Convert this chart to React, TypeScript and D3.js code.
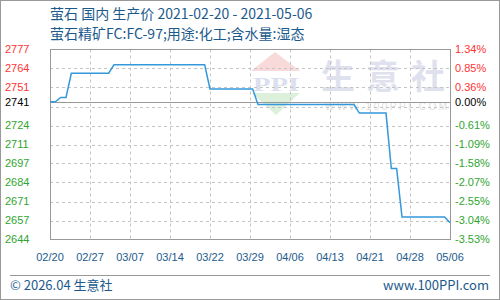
import React from "react";
import * as d3 from "d3";

// ---- data ----
const dates = [
  "2021-02-20", "2021-02-21", "2021-02-22", "2021-02-23", "2021-02-24",
  "2021-03-03", "2021-03-04", "2021-03-21", "2021-03-22", "2021-03-30",
  "2021-03-31", "2021-04-18", "2021-04-19", "2021-04-24", "2021-04-25",
  "2021-04-26", "2021-04-27", "2021-05-05", "2021-05-06",
];
const prices = [
  2741, 2741, 2744, 2744, 2761,
  2761, 2767, 2767, 2750, 2750,
  2739, 2739, 2733, 2733, 2694,
  2694, 2660, 2660, 2656,
];
const basePrice = 2741;
const yDomain = [2644.2, 2777.7];
const leftTickLabels = ["2777", "2764", "2751", "", "2724", "2711", "2697", "2684", "2671", "2657", "2644"];
const rightTickLabels = ["1.34%", "0.85%", "0.36%", "", "-0.61%", "-1.09%", "-1.58%", "-2.07%", "-2.55%", "-3.04%", "-3.53%"];
const xTickCount = 10;

const title = "萤石 国内 生产价 2021-02-20 - 2021-05-06";
const subtitle = "萤石精矿FC:FC-97;用途:化工;含水量:湿态";
const footerLeft = "© 2026.04 生意社";
const footerRight = "www.100PPI.com";

const W = 500, H = 300;
const L = 50, R = 450, T = 49.5, B = 239.5;
const BLUE = "#1c5a8c";
const RED = "#ff3333";
const GREEN = "#2fa52f";
const LINE = "#3498db";

export default function App() {
  const parse = d3.utcParse("%Y-%m-%d");
  const fmt = d3.utcFormat("%m/%d");
  const data = dates.map((d, i) => ({ date: parse(d)!, value: prices[i] }));
  const start = data[0].date;
  const end = data[data.length - 1].date;

  const x = d3.scaleUtc().domain([start, end]).range([L, R]);
  const y = d3.scaleLinear().domain(yDomain).range([B, T]);

  const xTicks = d3.range(xTickCount + 1).map(
    (i) => new Date(start.getTime() + (i * (end.getTime() - start.getTime())) / xTickCount)
  );
  const yTickVals = d3.range(leftTickLabels.length).map(
    (i) => yDomain[1] - (i * (yDomain[1] - yDomain[0])) / (leftTickLabels.length - 1)
  );

  const line = d3
    .line<{ date: Date; value: number }>()
    .x((d) => x(d.date))
    .y((d) => y(d.value));

  const yBase = Math.round(y(basePrice)) + 0.5;
  const axisFont = "'Liberation Sans', Arial, sans-serif";
  const cjkFont = "'Noto Sans CJK SC', 'Noto Sans', sans-serif";
  const GRID = "#c4c4c4";

  const hGrid = yTickVals.slice(1, -1).map((v) => Math.round(y(v)) + 0.5);
  const vGrid = xTicks.slice(1, -1).map((t) => Math.round(x(t)) + 0.5);

  return (
    <svg
      width={W}
      height={H}
      style={{ position: "absolute", left: 0, top: 0, background: "#fff" }}
    >
      <rect x={0.5} y={0.5} width={W - 1} height={H - 1} fill="#fff" stroke="#999" />

      {/* titles */}
      <text x={50} y={19} fontFamily={cjkFont} fontSize={14} fill={BLUE}>{title}</text>
      <text x={50} y={39} fontFamily={cjkFont} fontSize={14} fill={BLUE}>{subtitle}</text>

      {/* watermark */}
      <g>
        <path d="M275,52 L300,71 L251,71 Z" fill="#f8dada" />
        <text x={276} y={91} textAnchor="middle" fontFamily="'Liberation Serif', serif" fontWeight="bold" fontSize={19} fill="#dcdfee" textLength={46} lengthAdjust="spacingAndGlyphs">PPI</text>
        <path d="M252,93 L300,93 L276,115 Z" fill="#dcf0dc" />
        <text x={383} y={89} textAnchor="middle" fontFamily={cjkFont} fontWeight="bold" fontSize={34} fill="#dfe2ee" textLength={124} lengthAdjust="spacing">生意社</text>
        <text x={386} y={110} textAnchor="middle" fontFamily={axisFont} fontSize={10} fill="#e0e0e0" textLength={122} lengthAdjust="spacing">WWW.100PPI.COM</text>
      </g>

      {/* grid */}
      {hGrid.map((gy, i) => (
        <line key={"gy" + i} x1={L} x2={R} y1={gy} y2={gy} stroke={GRID} strokeWidth={1} strokeDasharray="3,3" />
      ))}
      {vGrid.map((gx, i) => (
        <line key={"gx" + i} x1={gx} x2={gx} y1={T} y2={B} stroke={GRID} strokeWidth={1} strokeDasharray="3,3" />
      ))}

      {/* baseline */}
      <line x1={L} x2={R} y1={yBase} y2={yBase} stroke="#999" strokeWidth={1.2} />

      {/* frame */}
      <rect x={L + 0.5} y={T} width={R - L} height={B - T} fill="none" stroke="#999" />

      {/* data line */}
      <path d={line(data) || ""} fill="none" stroke={LINE} strokeWidth={1.5} />

      {/* y labels */}
      {yTickVals.map((v, i) =>
        leftTickLabels[i] ? (
          <text key={"yl" + i} x={5} y={y(v)} dy="0.35em" fontFamily={axisFont} fontSize={11} fill={i < 3 ? RED : GREEN}>{leftTickLabels[i]}</text>
        ) : null
      )}
      {yTickVals.map((v, i) =>
        rightTickLabels[i] ? (
          <text key={"yr" + i} x={455} y={y(v)} dy="0.35em" fontFamily={axisFont} fontSize={11} fill={i < 3 ? RED : GREEN}>{rightTickLabels[i]}</text>
        ) : null
      )}
      <text x={5} y={y(basePrice)} dy="0.35em" fontFamily={axisFont} fontSize={11} fill="#000">{basePrice}</text>
      <text x={455} y={y(basePrice)} dy="0.35em" fontFamily={axisFont} fontSize={11} fill="#000">0.00%</text>

      {/* x labels */}
      {xTicks.map((t, i) => (
        <text key={"xl" + i} x={x(t)} y={261} textAnchor="middle" fontFamily={axisFont} fontSize={11} fill={BLUE}>{fmt(t)}</text>
      ))}

      {/* footer */}
      <line x1={10} x2={490} y1={275.5} y2={275.5} stroke="#999" />
      <text x={10} y={290} fontFamily={cjkFont} fontSize={13} fill={BLUE}>{footerLeft}</text>
      <text x={489} y={290} textAnchor="end" fontFamily={cjkFont} fontSize={13} fill={BLUE}>{footerRight}</text>
    </svg>
  );
}
